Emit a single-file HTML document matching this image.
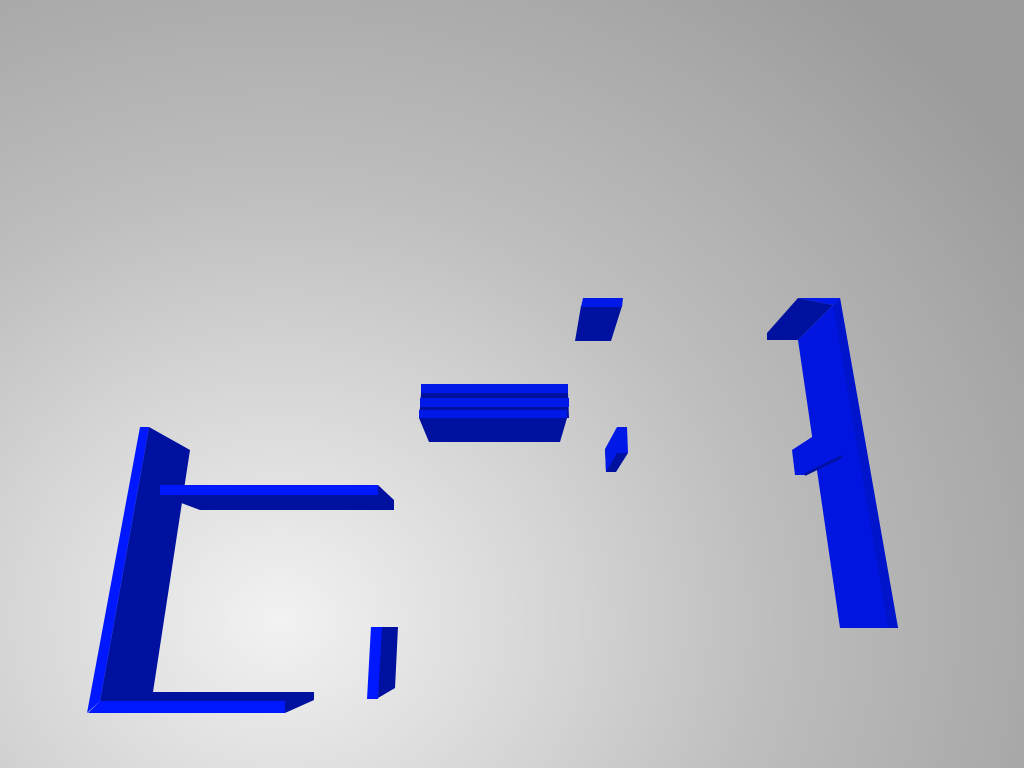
<!DOCTYPE html>
<html><head><meta charset="utf-8"><style>
html,body{margin:0;padding:0;}
#scene{width:1024px;height:768px;position:relative;overflow:hidden;
background:radial-gradient(ellipse 900px 800px at 280px 620px,#f2f2f2 0%,#d6d6d6 30%,#bdbdbd 55%,#ababab 80%,#9c9c9c 100%);}
svg{position:absolute;left:0;top:0;}
</style></head><body>
<div id="scene">
<svg width="1024" height="768" viewBox="0 0 1024 768">
<g>
<polygon fill="#00109f" points="149,427 190,450 153,692 314,692 314,700 285,713 100,713 100,701"/>
<polygon fill="#0018ff" points="140,427 149,427 100,701 87,713"/>
<polygon fill="#0018ff" points="100,701 285,701 285,713 88,713"/>
</g>
<g>
<polygon fill="#00109f" points="160,495 378,485 394,500 394,510 200,510"/>
<polygon fill="#0018ff" points="160,485 378,485 378,495 160,495"/>
</g>
<g>
<polygon fill="#00109f" points="380,627 398,627 395,688 378,698"/>
<polygon fill="#0018ff" points="371,627 382,627 378,699 367,699"/>
</g>
<g>
<polygon fill="#00109f" points="581,306 622,306 611,341 575,341"/>
<polygon fill="#0018e8" points="583,298 623,298 622,307 581,307"/>
</g>
<g>
<polygon fill="#00109f" points="421,393 568,393 569,418 567,418 560,442 429,442 419,418 420,407"/>
<rect fill="#0018e8" x="421" y="384" width="147" height="9"/>
<rect fill="#0018e8" x="420" y="398" width="149" height="9"/>
<rect fill="#0018e8" x="419" y="410" width="148" height="8"/>
</g>
<g>
<polygon fill="#00109f" points="605,449 617,453 628,453 616,472 606,472"/>
<polygon fill="#0018e8" points="605,449 617,427 627,427 628,453 617,453 606,472"/>
</g>
<g>
<polygon fill="#0016e0" points="798,340 833,305 840,298 898,628 840,628"/>
<polygon fill="#0014cc" points="833,305 840,298 898,628 888,628"/>
<polygon fill="#00109f" points="798,298 833,305 798,340 767,340 767,333"/>
<polygon fill="#0018e8" points="798,298 840,298 833,305"/>
<polygon fill="#0016e0" points="792,450 812,437 830,428 842,457 805,475 795,475"/>
<polygon fill="#00109f" points="805,473 842,455 842,458 805,476"/>
</g>
</svg>
</div>
</body></html>
